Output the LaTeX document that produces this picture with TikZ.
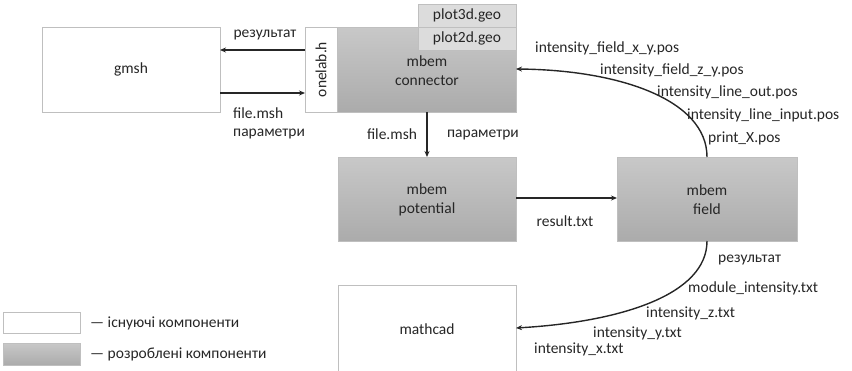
\documentclass[tikz,border=0pt]{standalone}
\usepackage{fontspec}
\setmainfont{Carlito}
\usetikzlibrary{arrows.meta}
\definecolor{bordergray}{HTML}{BFBFBF}
\definecolor{tabgray}{HTML}{DCDCDC}
\definecolor{gtop}{HTML}{C8C8C8}
\definecolor{gbot}{HTML}{ABABAB}
\definecolor{txt}{HTML}{262626}
\tikzset{
  base/.style={draw=bordergray, line width=0.8pt, inner sep=0pt},
  whitebox/.style={base, fill=white},
  graybox/.style={base, top color=gtop, bottom color=gbot},
  tabbox/.style={base, fill=tabgray},
  lbl/.style={inner sep=0pt, text=txt, font=\fontsize{15.5}{19}\selectfont},
  lblw/.style={lbl, anchor=west},
  arr/.style={line width=1.4pt, draw=black!85, -{Stealth[length=6pt,width=5pt]}},
}
\begin{document}
\begin{tikzpicture}[x=1pt,y=-1pt]
\useasboundingbox (0,0) rectangle (852,370);
% boxes
\path[whitebox] (42,27) rectangle (220,112);
\node[lbl] (gmsh) at (131,69.5) {gmsh};
\coordinate (gmshE1) at (220,50);
\coordinate (gmshE2) at (220,93);
\path[graybox] (337,27) rectangle (516,112);
\path[whitebox] (305,27) rectangle (337,112);
\node[lbl, rotate=90] (onelab) at (321,69.5) {onelab.h};
\coordinate (oneW1) at (305,50);
\coordinate (oneW2) at (305,93);
\path[tabbox] (418,4) rectangle (516,27);
\path[tabbox] (418,27) rectangle (516,50);
\node[lbl] (p3) at (467,15.5) {plot3d.geo};
\node[lbl] (p2) at (467,38.5) {plot2d.geo};
\node[lbl, align=center] (conn) at (427,71) {mbem\\connector};
\coordinate (connS) at (427,112);
\coordinate (connE) at (516,69);
% potential
\path[graybox] (338,157) rectangle (516,241);
\node[lbl, align=center] (pot) at (427,200) {mbem\\potential};
\coordinate (potN) at (427,157);
\coordinate (potE) at (516,198);
% field
\path[graybox] (617,157) rectangle (797,241);
\node[lbl, align=center] (field) at (707,200) {mbem\\field};
\coordinate (fieldN) at (707,157);
\coordinate (fieldS) at (707,241);
\coordinate (fieldW) at (617,198);
% mathcad
\path[whitebox] (338,285) rectangle (516,375);
\node[lbl] (mcad) at (427,329) {mathcad};
\coordinate (mcadE) at (516,328);
% arrows
\draw[arr] (oneW1) -- (gmshE1);
\draw[arr] (gmshE2) -- (oneW2);
\draw[arr] (connS) -- (potN);
\draw[arr] (potE) -- (fieldW);
\draw[arr] (fieldN) .. controls (707,100) and (620,70) .. (connE);
\draw[arr] (fieldS) .. controls (707,295) and (620,322) .. (mcadE);
% labels
\node[lbl] (l1) at (265,35) {результат};
\node[lblw] (l2) at (233,113) {file.msh};
\node[lblw] (l3) at (233,134) {параметри};
\node[lbl] (l4) at (392,134) {file.msh};
\node[lbl] (l5) at (483,135) {параметри};
\node[lbl] (l6) at (565,221) {result.txt};
\node[lblw] (u1) at (535,48) {intensity\_field\_x\_y.pos};
\node[lblw] (u2) at (600,70) {intensity\_field\_z\_y.pos};
\node[lblw] (u3) at (657,92) {intensity\_line\_out.pos};
\node[lblw] (u4) at (687,115) {intensity\_line\_input.pos};
\node[lblw] (u5) at (708,138) {print\_X.pos};
\node[lblw] (d1) at (718,260) {результат};
\node[lblw] (d2) at (688,288) {module\_intensity.txt};
\node[lblw] (d3) at (646,313) {intensity\_z.txt};
\node[lblw] (d4) at (593,333) {intensity\_y.txt};
\node[lblw] (d5) at (534,349) {intensity\_x.txt};
% legend
\path[whitebox] (3,312) rectangle (80,333);
\path[graybox] (3,343) rectangle (80,365);
\node[lblw] (leg1) at (90,323) {— існуючі компоненти};
\node[lblw] (leg2) at (90,354) {— розроблені компоненти};
\end{tikzpicture}
\end{document}
